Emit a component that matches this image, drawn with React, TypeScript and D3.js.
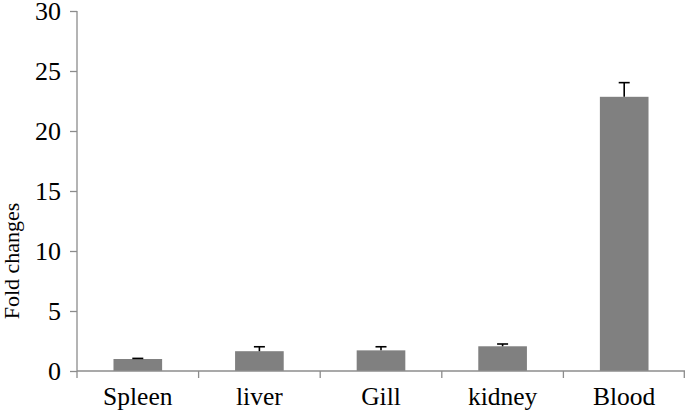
import { useEffect, useRef } from "react";
import * as d3 from "d3";

const categories = ["Spleen", "liver", "Gill", "kidney", "Blood"];
const foldValues = [1.0, 1.65, 1.72, 2.06, 22.85];
const errorValues = [0.05, 0.37, 0.3, 0.19, 1.18];
const yTicks = [0, 5, 10, 15, 20, 25, 30];

const WIDTH = 685;
const HEIGHT = 411;
const MARGIN = { top: 11, right: 0, bottom: 40, left: 77 };
const FONT = "Liberation Serif, DejaVu Serif, Times New Roman, serif";
const AXIS_COLOR = "#8c8c8c";
const BAR_COLOR = "#808080";

export default function App() {
  const svgRef = useRef<SVGSVGElement>(null);

  useEffect(() => {
    const svg = d3.select(svgRef.current);
    svg.selectAll("*").remove();

    const x = d3.scaleBand()
      .domain(categories)
      .range([MARGIN.left, WIDTH - MARGIN.right])
      .paddingInner(0)
      .paddingOuter(0);

    const y = d3.scaleLinear()
      .domain([0, 30])
      .range([HEIGHT - MARGIN.bottom, MARGIN.top]);

    const barW = x.bandwidth() * 0.4;
    const data = categories.map((c, i) => ({ c, v: foldValues[i], e: errorValues[i] }));

    // Bars
    svg.append("g")
      .selectAll("rect")
      .data(data)
      .join("rect")
      .attr("x", d => x(d.c)! + (x.bandwidth() - barW) / 2)
      .attr("y", d => y(d.v))
      .attr("width", barW)
      .attr("height", d => y(0) - y(d.v))
      .attr("fill", BAR_COLOR);

    // Error bars (upper only)
    const err = svg.append("g").attr("stroke", "#000").attr("stroke-width", 1.6);
    data.forEach(d => {
      const cx = x(d.c)! + x.bandwidth() / 2;
      err.append("line")
        .attr("x1", cx).attr("x2", cx)
        .attr("y1", y(d.v)).attr("y2", y(d.v + d.e));
      err.append("line")
        .attr("x1", cx - 5.5).attr("x2", cx + 5.5)
        .attr("y1", y(d.v + d.e)).attr("y2", y(d.v + d.e));
    });

    // Y axis
    svg.append("g")
      .attr("transform", `translate(${MARGIN.left},0)`)
      .call(d3.axisLeft(y).tickValues(yTicks).tickSize(7).tickSizeOuter(0).tickPadding(9))
      .call(g => g.select(".domain").remove())
      .call(g => g.selectAll("line").attr("stroke", AXIS_COLOR).attr("stroke-width", 1.3))
      .call(g => g.selectAll("text")
        .attr("fill", "#000")
        .attr("font-size", "26px")
        .attr("font-family", FONT));

    svg.append("line")
      .attr("x1", MARGIN.left).attr("x2", MARGIN.left)
      .attr("y1", y(30)).attr("y2", y(0) + 7)
      .attr("stroke", AXIS_COLOR).attr("stroke-width", 1.3);

    // X axis
    const xTickPos = categories.map(c => x(c)!).concat([WIDTH - MARGIN.right - 0.7]);
    svg.append("line")
      .attr("x1", MARGIN.left).attr("x2", WIDTH - MARGIN.right)
      .attr("y1", y(0)).attr("y2", y(0))
      .attr("stroke", AXIS_COLOR).attr("stroke-width", 1.3);
    svg.append("g")
      .selectAll("line")
      .data(xTickPos.slice(1))
      .join("line")
      .attr("x1", d => d).attr("x2", d => d)
      .attr("y1", y(0)).attr("y2", y(0) + 7)
      .attr("stroke", AXIS_COLOR).attr("stroke-width", 1.3);

    svg.append("g")
      .selectAll("text")
      .data(categories)
      .join("text")
      .attr("x", d => x(d)! + x.bandwidth() / 2)
      .attr("y", y(0) + 34)
      .attr("text-anchor", "middle")
      .attr("font-size", "25.5px")
      .attr("font-family", FONT)
      .attr("fill", "#000")
      .text(d => d);

    // Y label
    svg.append("text")
      .attr("transform", "translate(19,261) rotate(-90)")
      .attr("text-anchor", "middle")
      .attr("font-size", "22px")
      .attr("font-family", FONT)
      .attr("fill", "#000")
      .text("Fold changes");
  }, []);

  return (
    <div style={{ position: "absolute", left: 0, top: 0, background: "#fff" }}>
      <svg ref={svgRef} width={WIDTH} height={HEIGHT} style={{ display: "block" }} />
    </div>
  );
}
